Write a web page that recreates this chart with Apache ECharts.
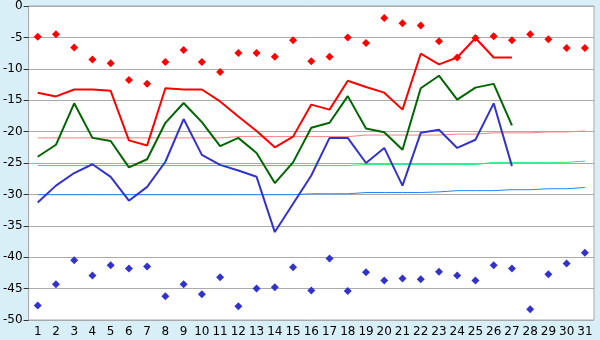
<!DOCTYPE html>
<html>
<head>
<meta charset="utf-8">
<script src="https://cdn.jsdelivr.net/npm/echarts@6/dist/echarts.min.js"></script>
<style>
  html, body { margin: 0; padding: 0; background: #d9eff7; }
  #chart { width: 600px; height: 340px; }
</style>
</head>
<body>
<div id="chart"></div>
<script>
// jours du mois
const days = ['1','2','3','4','5','6','7','8','9','10','11','12','13','14','15','16',
  '17','18','19','20','21','22','23','24','25','26','27','28','29','30','31'];

// max absolus (points rouges)
const recordMax = [-4.9, -4.5, -6.6, -8.5, -9.1, -11.8, -12.4, -8.9, -7.0, -8.9, -10.5, -7.5, -7.5, -8.1, -5.45, -8.8,
  -8.1, -5.0, -5.9, -1.9, -2.75, -3.1, -5.6, -8.2, -5.1, -4.8, -5.45, -4.5, -5.3, -6.7, -6.7];
// min absolus (points bleus)
const recordMin = [-47.7, -44.3, -40.5, -42.9, -41.3, -41.8, -41.5, -46.2, -44.3, -45.9, -43.2, -47.8, -45.0, -44.8, -41.6, -45.3,
  -40.2, -45.4, -42.4, -43.7, -43.4, -43.5, -42.3, -42.9, -43.7, -41.3, -41.8, -48.3, -42.7, -41.0, -39.3];

// valeurs du mois (jours 1-27)
const tMax = [-13.8, -14.4, -13.3, -13.3, -13.5, -21.4, -22.2, -13.1, -13.3, -13.3, -15.2, -17.6, -19.9, -22.5, -20.8, -15.7,
  -16.5, -11.9, -12.9, -13.8, -16.5, -7.6, -9.3, -8.2, -5.1, -8.2, -8.2];
const tMoy = [-24.0, -22.1, -15.5, -21.0, -21.5, -25.7, -24.4, -18.6, -15.45, -18.5, -22.3, -21.0, -23.4, -28.2, -24.9, -19.4,
  -18.6, -14.35, -19.5, -20.1, -22.9, -13.1, -11.1, -14.9, -13.0, -12.4, -19.0];
const tMin = [-31.3, -28.6, -26.6, -25.2, -27.2, -31.0, -28.8, -24.8, -18.0, -23.7, -25.3, -26.2, -27.2, -36.0, -31.5, -27.0,
  -21.0, -21.0, -25.0, -22.6, -28.6, -20.2, -19.7, -22.6, -21.3, -15.5, -25.5];

// normales
const normMax = [-21.0, -21.0, -21.0, -21.0, -21.0, -21.0, -21.0, -21.0, -21.0, -21.0, -21.0, -20.8, -20.8, -20.8, -20.8, -20.8,
  -20.8, -20.8, -20.55, -20.55, -20.55, -20.55, -20.55, -20.4, -20.4, -20.2, -20.2, -20.2, -20.05, -20.05, -19.9];
const normMoy = [-25.4, -25.4, -25.4, -25.4, -25.4, -25.4, -25.4, -25.4, -25.4, -25.4, -25.4, -25.4, -25.4, -25.4, -25.4, -25.4,
  -25.4, -25.4, -25.25, -25.25, -25.25, -25.25, -25.25, -25.25, -25.25, -24.9, -24.9, -24.9, -24.9, -24.9, -24.7];
const normMin = [-30.05, -30.05, -30.05, -30.05, -30.05, -30.05, -30.05, -30.05, -30.05, -30.05, -30.05, -30.05, -30.05, -30.05, -30.05, -29.9,
  -29.9, -29.9, -29.7, -29.7, -29.7, -29.7, -29.6, -29.4, -29.4, -29.4, -29.25, -29.25, -29.1, -29.1, -28.9];

const chart = echarts.init(document.getElementById('chart'), null, { renderer: 'canvas' });

const lineOf = (data, color, width) => ({
  type: 'line', data, symbol: 'none', silent: true,
  lineStyle: { color, width }, z: width > 1 ? 3 : 2
});
const dotsOf = (data, color) => ({
  type: 'scatter', data, symbol: 'diamond', symbolSize: 8, silent: true,
  itemStyle: { color, opacity: 1 }, z: 4
});

chart.setOption({
  animation: false,
  backgroundColor: '#d9eff7',
  textStyle: { fontFamily: 'DejaVu Sans' },
  grid: {
    left: 26, right: 6, top: 5, bottom: 20,
    show: true, backgroundColor: '#ffffff', borderColor: '#aaaaaa', borderWidth: 1
  },
  xAxis: {
    type: 'category',
    data: days,
    boundaryGap: true,
    axisLine: { lineStyle: { color: '#aaaaaa' } },
    axisTick: { alignWithLabel: true, length: 5, lineStyle: { color: '#333333' } },
    axisLabel: { color: '#000000', fontSize: 12, margin: 6, interval: 0 },
    splitLine: { show: false }
  },
  yAxis: {
    type: 'value',
    min: -50, max: 0, interval: 5,
    axisLine: { show: true, lineStyle: { color: '#aaaaaa' } },
    axisTick: { show: true, length: 5, lineStyle: { color: '#333333' } },
    axisLabel: { color: '#000000', fontSize: 12, margin: 6 },
    splitLine: { lineStyle: { color: '#aaaaaa', width: 1 } }
  },
  series: [
    lineOf(normMax, '#ff8080', 1),
    lineOf(normMoy, '#22ee77', 1),
    lineOf(normMin, '#1e88ff', 1),
    lineOf(tMax, '#ff0000', 2),
    lineOf(tMoy, '#006600', 2),
    lineOf(tMin, '#3333cc', 2),
    dotsOf(recordMax, '#ff0000'),
    dotsOf(recordMin, '#3333cc')
  ]
});
</script>
</body>
</html>
